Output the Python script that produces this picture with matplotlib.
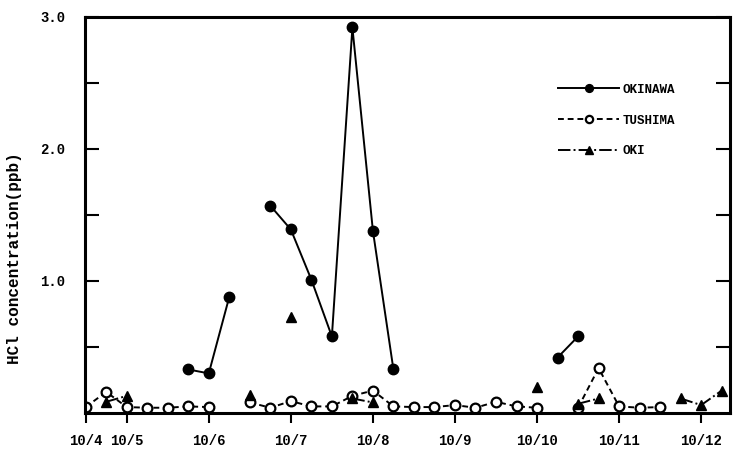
import numpy as np
import matplotlib
matplotlib.use("Agg")
import matplotlib.pyplot as plt

nan = np.nan

# time in days of October (6-hour steps)
okinawa_t = [5.75, 6.0, 6.25, 6.5, 6.75, 7.0, 7.25, 7.5, 7.75, 8.0, 8.25, 8.5, 10.25, 10.5]
okinawa_v = [0.33, 0.30, 0.88, nan, 1.57, 1.39, 1.01, 0.58, 2.92, 1.38, 0.33, nan, 0.42, 0.58]

tushima_t = [4.5, 4.75, 5.0, 5.25, 5.5, 5.75, 6.0, 6.25, 6.5, 6.75, 7.0, 7.25, 7.5, 7.75,
             8.0, 8.25, 8.5, 8.75, 9.0, 9.25, 9.5, 9.75, 10.0, 10.25, 10.5, 10.75, 11.0,
             11.25, 11.5]
tushima_v = [0.045, 0.16, 0.045, 0.04, 0.04, 0.05, 0.045, nan, 0.08, 0.04, 0.09, 0.05, 0.05,
             0.13, 0.17, 0.05, 0.045, 0.045, 0.06, 0.04, 0.085, 0.05, 0.04, nan, 0.04, 0.34,
             0.05, 0.04, 0.045]

oki_t = [4.75, 5.0, 5.25, 6.5, 6.75, 7.0, 7.25, 7.75, 8.0, 8.25, 10.0, 10.25, 10.5, 10.75,
         11.0, 11.75, 12.0, 12.25]
oki_v = [0.085, 0.13, nan, 0.14, nan, 0.73, nan, 0.11, 0.08, nan, 0.20, nan, 0.07, 0.11,
         nan, 0.11, 0.06, 0.17]

tick_pos = [4.5, 5, 6, 7, 8, 9, 10, 11, 12]
tick_labels = ["10/4", "10/5", "10/6", "10/7", "10/8", "10/9", "10/10", "10/11", "10/12"]

font = {"family": "Liberation Mono", "weight": "bold"}

fig = plt.figure(figsize=(7.38, 4.66), dpi=100)
ax = fig.add_axes([0.115, 0.1137, 0.874, 0.85])

ax.plot(okinawa_t, okinawa_v, "-", color="black", lw=1.4, marker="o", ms=7.5,
        mfc="black", mec="black", label="OKINAWA")
ax.plot(tushima_t, tushima_v, "--", color="black", lw=1.4, marker="o", ms=7,
        mfc="white", mec="black", mew=1.6, dashes=(3, 2), label="TUSHIMA")
ax.plot(oki_t, oki_v, "-.", color="black", lw=1.4, marker="^", ms=7.5,
        mfc="black", mec="black", label="OKI")

ax.set_xlim(4.49, 12.35)
ax.set_ylim(0, 3.0)

ax.set_xticks(tick_pos)
ax.set_xticklabels(tick_labels, fontdict=font, fontsize=10)
ax.set_yticks([0.5, 1.0, 1.5, 2.0, 2.5, 3.0])
ax.set_yticklabels(["", "1.0", "", "2.0", "", "3.0"], fontdict=font, fontsize=10)
ax.tick_params(axis="y", direction="in", length=10, width=1.5, right=True, pad=14)
ax.tick_params(axis="x", direction="out", length=7, width=1.5, pad=8)

for s in ax.spines.values():
    s.set_linewidth(2.2)

ax.set_ylabel("HCl concentration(ppb)", fontdict=font, fontsize=11.5)
ax.yaxis.set_label_coords(-0.098, 0.39)

leg = ax.legend(loc="upper left", bbox_to_anchor=(0.724, 0.847), frameon=False,
                handlelength=4.9, labelspacing=1.5, borderpad=0, handletextpad=0.25,
                markerscale=0.75,
                prop={"family": "Liberation Mono", "weight": "bold", "size": 9})

fig.savefig("out.png", dpi=100)
